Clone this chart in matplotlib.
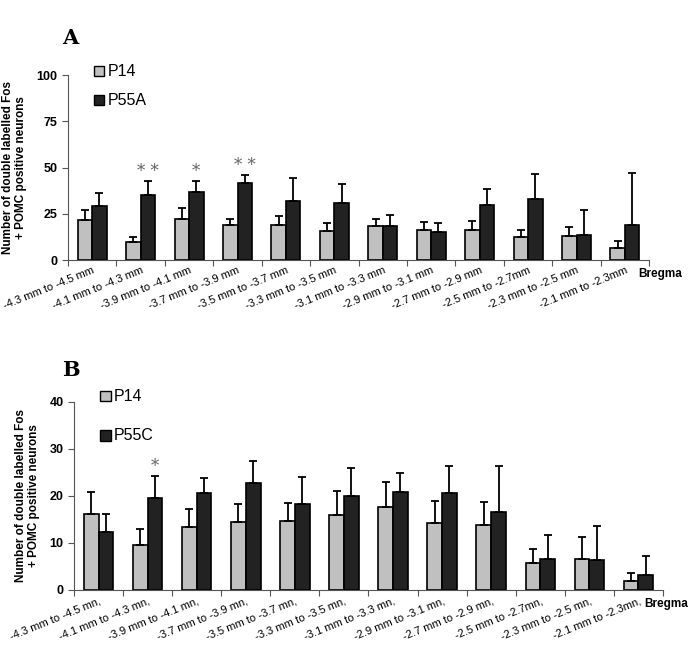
import numpy as np
import matplotlib
matplotlib.use('Agg')
import matplotlib.pyplot as plt
from matplotlib.patches import Rectangle

plt.rcParams['font.family'] = ['Liberation Sans', 'DejaVu Sans']

# Bregma ranges
ranges = ['-4.3 mm to -4.5 mm', '-4.1 mm to -4.3 mm', '-3.9 mm to -4.1 mm',
          '-3.7 mm to -3.9 mm', '-3.5 mm to -3.7 mm', '-3.3 mm to -3.5 mm',
          '-3.1 mm to -3.3 mm', '-2.9 mm to -3.1 mm', '-2.7 mm to -2.9 mm',
          '-2.5 mm to -2.7mm', '-2.3 mm to -2.5 mm', '-2.1 mm to -2.3mm']
ranges_b = ['-4.3 mm to -4.5 mn,', '-4.1 mm to -4.3 mn,', '-3.9 mm to -4.1 mn,',
            '-3.7 mm to -3.9 mn,', '-3.5 mm to -3.7 mn,', '-3.3 mm to -3.5 mn,',
            '-3.1 mm to -3.3 mn,', '-2.9 mm to -3.1 mn,', '-2.7 mm to -2.9 mn,',
            '-2.5 mm to -2.7mn,', '-2.3 mm to -2.5 mn,', '-2.1 mm to -2.3mn,']

# Panel A
p14_a = [21.6, 10.0, 22.3, 19.0, 19.0, 15.8, 18.2, 16.0, 16.0, 12.4, 13.0, 6.3]
p14_a_err = [5.4, 2.2, 5.7, 3.1, 4.7, 4.2, 4.1, 4.5, 4.9, 4.1, 4.8, 3.8]
p55a = [29.3, 35.4, 36.9, 41.5, 31.7, 31.1, 18.2, 15.1, 29.7, 33.1, 13.7, 19.2]
p55a_err = [7.2, 7.2, 5.7, 4.5, 12.4, 9.9, 5.9, 4.7, 8.6, 13.3, 13.3, 27.9]
stars_a = ['', '* *', '*', '* *', '', '', '', '', '', '', '', '']

# Panel B
p14_b = [16.2, 9.6, 13.4, 14.4, 14.7, 16.0, 17.6, 14.3, 13.9, 5.7, 6.6, 1.9]
p14_b_err = [4.6, 3.4, 3.9, 3.8, 3.7, 5.1, 5.4, 4.6, 4.8, 3.1, 4.6, 1.7]
p55c = [12.4, 19.6, 20.5, 22.8, 18.2, 19.9, 20.9, 20.6, 16.5, 6.6, 6.4, 3.1]
p55c_err = [3.7, 4.6, 3.3, 4.7, 5.7, 6.0, 4.0, 5.7, 9.8, 5.0, 7.2, 4.2]
stars_b = ['', '*', '', '', '', '', '', '', '', '', '', '']

LIGHT = '#c0c0c0'
DARK = '#222222'
ylabel = 'Number of double labelled Fos\n+ POMC positive neurons'


def panel(fig, rect, labels, v1, e1, v2, e2, stars, ymax, step, name2, letter,
          leg_y, letter_pos, bregma_x):
	ax = fig.add_axes(rect)
	n = len(v1)
	x = np.arange(n) + 0.5
	w = 0.3
	kw = dict(width=w, edgecolor='black', linewidth=1.2, zorder=2)
	ax.bar(x - w/2, v1, color=LIGHT, **kw)
	ax.bar(x + w/2, v2, color=DARK, **kw)
	ekw = dict(fmt='none', ecolor='black', elinewidth=1.3, capsize=3,
	           capthick=1.3, zorder=3)
	ax.errorbar(x - w/2, v1, yerr=[np.zeros(n), e1], **ekw)
	ax.errorbar(x + w/2, v2, yerr=[np.zeros(n), e2], **ekw)
	for i, s in enumerate(stars):
		if s:
			ax.text(x[i] + w/2, v2[i] + e2[i] + ymax*0.005, s, ha='center',
			        va='bottom', fontsize=12, color='#666666', family='serif')

	ax.set_xlim(0, n)
	ax.set_ylim(0, ymax)
	ax.set_yticks(np.arange(0, ymax + 1, step))
	ax.set_xticks(np.arange(0, n + 1))
	ax.set_xticklabels([])
	ax.tick_params(axis='x', length=4, direction='out', color='#555555')
	ax.tick_params(axis='y', length=4, direction='out', color='#555555',
	               labelsize=9)
	for t in ax.get_yticklabels():
		t.set_fontweight('bold')
	for sp in ['top', 'right']:
		ax.spines[sp].set_visible(False)
	for sp in ['left', 'bottom']:
		ax.spines[sp].set_color('#555555')
	ax.set_ylabel(ylabel, fontsize=8.5, fontweight='bold', labelpad=7,
	              linespacing=1.05)

	for i, lab in enumerate(labels):
		ax.text(x[i], -0.03*ymax, lab, rotation=22, ha='right', va='top',
		        rotation_mode='anchor', fontsize=8, transform=ax.transData)
	ax.text(bregma_x, -0.075, 'Bregma', transform=ax.transAxes, fontsize=8.5,
	        fontweight='bold', ha='left', va='center')
	ax.text(letter_pos[0], letter_pos[1], letter, transform=ax.transAxes,
	        fontsize=15, fontweight='bold', family='serif', ha='left',
	        va='center')

	# Legend
	for j, (nm, c) in enumerate([('P14', LIGHT), (name2, DARK)]):
		yy = leg_y[j]
		ax.add_patch(Rectangle((0.045, yy - 0.027), 0.017, 0.054,
		                       transform=ax.transAxes, facecolor=c,
		                       edgecolor='black', linewidth=1.0,
		                       clip_on=False))
		ax.text(0.068, yy, nm, transform=ax.transAxes, fontsize=11.5,
		        va='center', ha='left')
	return ax


fig = plt.figure(figsize=(6.96, 6.65), dpi=100)
panel(fig, [0.0977, 0.609, 0.835, 0.278], ranges, p14_a, p14_a_err, p55a,
      p55a_err, stars_a, 100, 25, 'P55A', 'A', [1.02, 0.865], (-0.01, 1.2),
      0.982)
panel(fig, [0.1063, 0.1128, 0.8463, 0.2832], ranges_b, p14_b, p14_b_err,
      p55c, p55c_err, stars_b, 40, 10, 'P55C', 'B', [1.03, 0.82],
      (-0.02, 1.17), 0.969)
fig.savefig('out.png', dpi=100)
